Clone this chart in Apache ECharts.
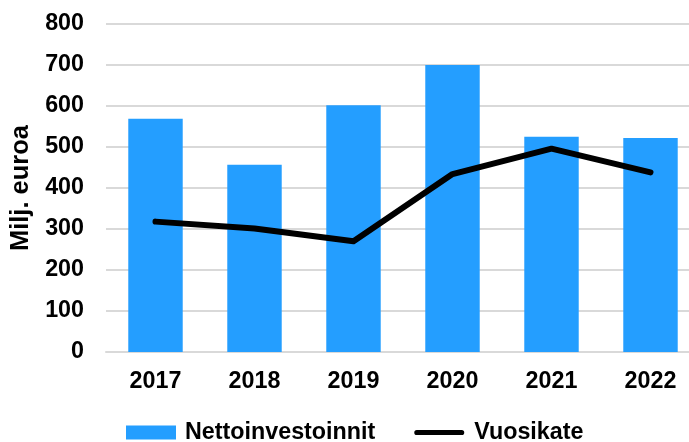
<!DOCTYPE html>
<html>
<head>
<meta charset="utf-8">
<script src="https://cdn.jsdelivr.net/npm/echarts@6/dist/echarts.min.js"></script>
<style>
    html, body { margin: 0; padding: 0; background: #fff; }
    #chart { width: 689px; height: 442px; }
</style>
</head>
<body>
<div id="chart"></div>
<script>
    var years = ['2017', '2018', '2019', '2020', '2021', '2022'];
    var nettoinvestoinnit = [569, 457, 602, 700, 525, 522];  // pylväät
    var vuosikate = [318, 301, 270, 434, 496, 438];          // viiva
    var yTicks = [0, 100, 200, 300, 400, 500, 600, 700, 800];

    var font = 'Liberation Sans, Arial, sans-serif';
    var labelSize = 23.3;
    var chart = echarts.init(document.getElementById('chart'));

    var option = {
        animation: false,
        textStyle: { fontFamily: font },
        grid: { left: 106, top: 24, width: 594, height: 328, outerBoundsMode: 'none' },
        legend: {
            left: 126,
            top: 421,
            padding: 0,
            itemWidth: 50,
            itemHeight: 14,
            itemGap: 39,
            textStyle: { fontSize: labelSize, fontWeight: 'bold', color: '#000', fontFamily: font, padding: [0, 0, 0, 4] },
            data: [
                { name: 'Nettoinvestoinnit', icon: 'rect' },
                {
                    name: 'Vuosikate',
                    icon: 'path://M3,0 L55,0 A3,3 0 0 1 55,6 L3,6 A3,3 0 0 1 3,0 Z',
                    textStyle: { padding: [0, 0, 0, 5] }
                }
            ]
        },
        xAxis: {
            type: 'category',
            data: years,
            axisLine: { show: true, lineStyle: { color: '#d9d9d9', width: 2 } },
            axisTick: { show: false },
            axisLabel: { fontSize: labelSize, fontWeight: 'bold', color: '#000', margin: 18, fontFamily: font }
        },
        yAxis: {
            type: 'value',
            min: yTicks[0],
            max: yTicks[yTicks.length - 1],
            interval: 100,
            name: 'Milj. euroa',
            nameLocation: 'middle',
            nameGap: 71,
            nameTextStyle: { fontSize: 25.5, fontWeight: 'bold', color: '#000', fontFamily: font },
            axisLine: { show: false },
            axisTick: { show: false },
            axisLabel: { fontSize: labelSize, fontWeight: 'bold', color: '#000', margin: 22, fontFamily: font },
            splitLine: { lineStyle: { color: '#d9d9d9', width: 2 } }
        },
        series: [
            {
                name: 'Nettoinvestoinnit',
                type: 'bar',
                data: nettoinvestoinnit,
                barWidth: '55%',
                itemStyle: { color: '#249eff' }
            },
            {
                name: 'Vuosikate',
                type: 'line',
                data: vuosikate,
                symbol: 'none',
                itemStyle: { color: '#000' },
                lineStyle: { color: '#000', width: 6, cap: 'round', join: 'round' }
            }
        ]
    };

    chart.setOption(option);
</script>
</body>
</html>
